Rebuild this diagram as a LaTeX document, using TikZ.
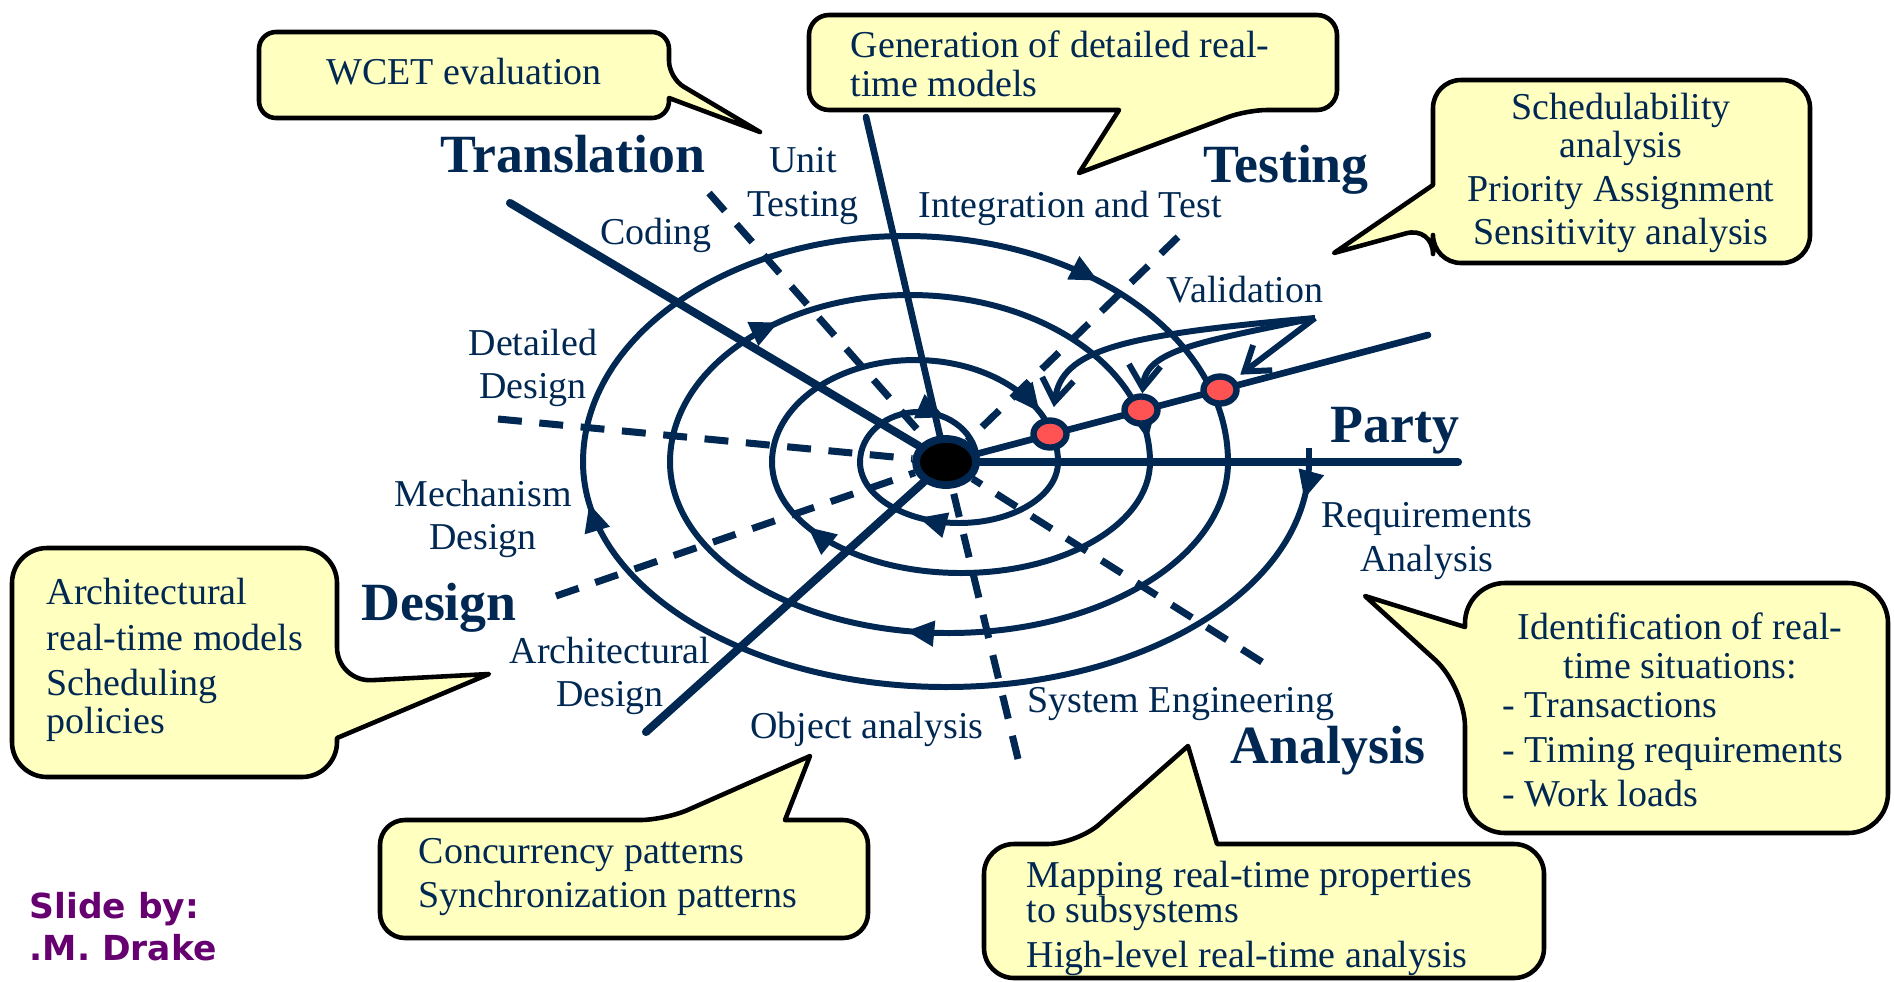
\documentclass[tikz,border=0pt]{standalone}
\usepackage{fontspec}
\setmainfont{Liberation Serif}
\newfontfamily\slidefont{DejaVu Sans}
\usetikzlibrary{arrows.meta,shapes.geometric,decorations.markings}
\definecolor{navy}{RGB}{0,40,82}
\definecolor{paleyellow}{RGB}{255,255,192}
\definecolor{dotred}{RGB}{255,82,82}
\definecolor{plum}{RGB}{102,0,112}

\begin{document}
\begin{tikzpicture}[x=0.01cm,y=-0.01cm]
  \tikzset{LB/.style={text=navy, font=\fontsize{10.8}{12.3}\selectfont, align=center, inner sep=0}}
  \tikzset{HD/.style={text=navy, font=\fontsize{15.3}{18}\selectfont\bfseries, inner sep=0, anchor=base}}
  \tikzset{CT/.style={text=navy, font=\fontsize{10.8}{11}\selectfont, inner sep=0}}
  \tikzset{CO/.style={draw=black, line width=1.3pt, fill=paleyellow, line join=round}}
  \tikzset{SP/.style={color=navy, line width=1.7pt}}
  \tikzset{mk/.style={postaction={decorate,decoration={markings,
      mark=at position #1 with {\arrow{Triangle[length=8pt,width=7pt]}}}}}}
  \tikzset{AX/.style={draw=navy, line width=2.3pt, line cap=round}}
  \tikzset{DA/.style={draw=navy, line width=2pt, dash pattern=on 6.8pt off 5pt}}
  \tikzset{CTR/.style={ellipse, fill=black, draw=navy, line width=2.2pt,
      minimum width=0.6cm, minimum height=0.46cm, inner sep=0}}
  \tikzset{DOT/.style={ellipse, fill=dotred, draw=navy, line width=1.8pt,
      minimum width=0.33cm, minimum height=0.27cm, inner sep=0}}
  \tikzset{VA/.style={draw=navy, line width=1.7pt, -{Straight Barb[length=6.5pt,width=9pt]}}}
  \tikzset{SB/.style={text=plum, font=\slidefont\bfseries\fontsize{9.8}{12}\selectfont,
      inner sep=0, anchor=base west}}

  \useasboundingbox (0,0) rectangle (1894,981);

  % speech bubbles
  \draw[CO, rounded corners=0.17cm] (259,32) -- (669,32) -- (669,78) [sharp corners]
    -- (760,132) -- (669,98) [rounded corners=0.17cm] -- (669,118) -- (259,118) -- cycle;
  \draw[CO, rounded corners=0.2cm] (809,15) -- (1337,15) -- (1337,110) -- (1247,110) [sharp corners]
    -- (1079,173) -- (1119,110) [rounded corners=0.2cm] -- (809,110) -- cycle;
  \draw[CO, rounded corners=0.28cm] (1433,80) -- (1810,80) -- (1810,263) -- (1433,263) -- (1433,226) [sharp corners]
    -- (1334,253) -- (1433,185) [rounded corners=0.28cm] -- cycle;
  \draw[CO, rounded corners=0.35cm] (12,548) -- (337,548) -- (337,682) [sharp corners]
    -- (489,674) -- (337,738) [rounded corners=0.35cm] -- (337,777) -- (12,777) -- cycle;
  \draw[CO, rounded corners=0.25cm] (380,820) -- (665,820) [sharp corners]
    -- (810,756) -- (785,820) [rounded corners=0.25cm] -- (868,820) -- (868,938) -- (380,938) -- cycle;
  \draw[CO, rounded corners=0.4cm] (1465,583) -- (1888,583) -- (1888,833) -- (1465,833) -- (1465,687) [sharp corners]
    -- (1365,596) -- (1465,627) [rounded corners=0.4cm] -- cycle;
  \draw[CO, rounded corners=0.3cm] (984,844) -- (1077,844) [sharp corners]
    -- (1188,746) -- (1217,844) [rounded corners=0.3cm] -- (1544,844) -- (1544,978) -- (984,978) -- cycle;

  \node[CT] (c1) at (464,72) {WCET evaluation};
  \node[CT, align=left, anchor=west] (c2) at (850,64) {Generation of detailed real-\\time models};
  \node[CT, align=center] (c3) at (1621,173)
    {Schedulability\\analysis\\[1.5pt]Priority Assignment\\[1.2pt]Sensitivity analysis};
  \node[CT, align=left, anchor=west] (c4) at (46,660)
    {Architectural\\[2pt]real-time models\\[1.8pt]Scheduling\\policies};
  \node[CT, align=left, anchor=west] (c5) at (418,877) {Concurrency patterns\\[1.5pt]Synchronization patterns};
  \node[CT, align=center] (c6a) at (1680,646) {Identification of real-\\time situations:};
  \node[CT, align=left, anchor=west] (c6b) at (1502,750)
    {- Transactions\\[1.8pt]- Timing requirements\\[1.5pt]- Work loads};
  \node[CT, align=left, anchor=west] (c7) at (1026,918)
    {Mapping real-time properties\\[-1pt]to subsystems\\[1.8pt]High-level real-time analysis};

  % spiral, from outside to centre
  \draw[SP] (1309,448) -- (1309,462);
  \draw[SP, mk=0.04, mk=0.955] (1309,462) arc[start angle=0, end angle=180, x radius=363, y radius=225];
  \draw[SP, mk=0.73] (583,462) arc[start angle=180, end angle=360, x radius=322.5, y radius=226];
  \draw[SP, mk=0.56] (1228,462) arc[start angle=0, end angle=180, x radius=279, y radius=171];
  \draw[SP, mk=0.29, mk=0.965] (670,462) arc[start angle=180, end angle=360, x radius=240, y radius=167];
  \draw[SP, mk=0.84] (1150,462) arc[start angle=0, end angle=180, x radius=189, y radius=111];
  \draw[SP, mk=0.86] (772,462) arc[start angle=180, end angle=360, x radius=143, y radius=102];
  \draw[SP, mk=0.66] (1058,462) arc[start angle=0, end angle=180, x radius=99, y radius=61];
  \draw[SP, mk=0.66] (860,462) arc[start angle=180, end angle=360, x radius=58.5, y radius=50];

  % axes
  \coordinate (c0) at (946,462);
  \coordinate (e1) at (510,203);
  \coordinate (e2) at (866,117);
  \coordinate (e3) at (1458,462);
  \coordinate (e4) at (1428,335);
  \coordinate (e5) at (646,732);
  \coordinate (k1) at (709,193);
  \coordinate (k2) at (1178,237);
  \coordinate (k3) at (498,419);
  \coordinate (k4) at (556,596);
  \coordinate (k5) at (1018,759);
  \coordinate (k6) at (1262,662);
  \node[CTR] (ctr) at (c0) {};

  \foreach \from/\to in {k1/ctr,k2/ctr,k3/ctr,k4/ctr,k5/ctr,k6/ctr}
    \draw[DA] (\from) -- (\to);
  \foreach \from/\to in {e1/ctr,e3/ctr,e5/ctr}
    \draw[AX] (\from) -- (\to);
  \foreach \from/\to in {e2/ctr,e4/ctr}
    \draw[AX, line width=1.9pt] (\from) -- (\to);

  \node[DOT] (d1) at (1050,434) {};
  \node[DOT] (d2) at (1141,410) {};
  \node[DOT] (d3) at (1220,390) {};

  \coordinate (va) at (1315,318);
  \draw[VA, shorten >=2pt] (va) -- (d3);
  \draw[VA] (va) .. controls (1200,342) and (1146,350) .. (d2);
  \draw[VA, shorten >=3pt] (va) .. controls (1120,335) and (1062,350) .. (d1);

  % phase names
  \node[HD] (h1) at (573,172)  {Translation};
  \node[HD] (h2) at (1286,182) {Testing};
  \node[HD] (h3) at (1395,442) {Party};
  \node[HD] (h4) at (439,620)  {Design};
  \node[HD] (h5) at (1328,763) {Analysis};

  % activity names
  \node[LB] (l1)  at (803,186)  {Unit\\Testing};
  \node[LB] (l2)  at (656,235)  {Coding};
  \node[LB] (l3)  at (1070,208) {Integration and Test};
  \node[LB] (l4)  at (1245,290) {Validation};
  \node[LB] (l5)  at (533,368)  {Detailed\\Design};
  \node[LB] (l6)  at (483,519)  {Mechanism\\Design};
  \node[LB] (l7)  at (610,676)  {Architectural\\Design};
  \node[LB] (l8)  at (867,729)  {Object analysis};
  \node[LB] (l9)  at (1181,704) {System Engineering};
  \node[LB] (l10) at (1427,541) {Requirements\\Analysis};

  \node[SB] (s1) at (29,918) {Slide by:};
  \node[SB] (s2) at (29,960) {.M. Drake};
\end{tikzpicture}
\end{document}
